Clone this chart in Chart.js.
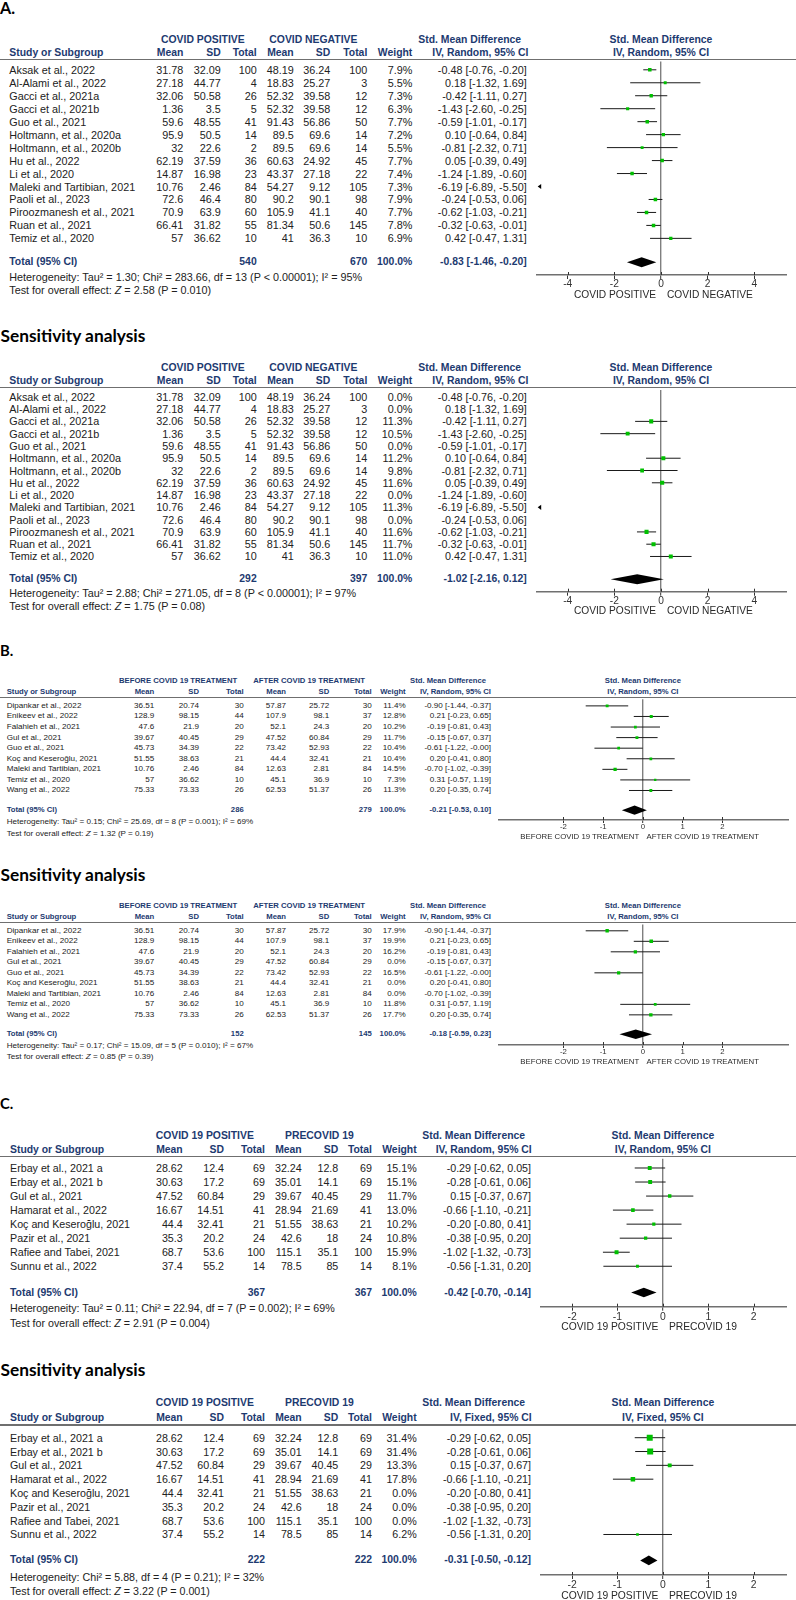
<!DOCTYPE html>
<html><head><meta charset="utf-8">
<script src="https://cdn.jsdelivr.net/npm/chart.js@4.4.1/dist/chart.umd.min.js"></script>
<style>
html,body{margin:0;padding:0;background:#fff;}
#page{position:relative;width:796px;height:1600px;overflow:hidden;font-family:"Liberation Sans",Arial,sans-serif;background:#fff;}
.t{position:absolute;white-space:nowrap;line-height:1;transform:translateY(-50%);color:#222;}
.t.r{transform:translate(-100%,-50%);}
.t.c{transform:translate(-50%,-50%);}
.t.b{font-weight:bold;color:#1d3a70;}
.rule{position:absolute;left:0;width:796px;height:1.3px;background:#6f6f6f;}
canvas{position:absolute;}
</style></head><body><div id="page"></div>
<script>
// ================= DATA =================
// Panel A (COVID positive vs negative)
const studiesA = ["Aksak et al., 2022","Al-Alami et al., 2022","Gacci et al., 2021a","Gacci et al., 2021b","Guo et al., 2021","Holtmann, et al., 2020a","Holtmann, et al., 2020b","Hu et al., 2022","Li et al., 2020","Maleki and Tartibian, 2021","Paoli et al., 2023","Piroozmanesh et al., 2021","Ruan et al., 2021","Temiz et al., 2020"];
const posMeanA = [31.78,27.18,32.06,1.36,59.6,95.9,32,62.19,14.87,10.76,72.6,70.9,66.41,57];
const posSdA   = [32.09,44.77,50.58,3.5,48.55,50.5,22.6,37.59,16.98,2.46,46.4,63.9,31.82,36.62];
const posNA    = [100,4,26,5,41,14,2,36,23,84,80,60,55,10];
const negMeanA = [48.19,18.83,52.32,52.32,91.43,89.5,89.5,60.63,43.37,54.27,90.2,105.9,81.34,41];
const negSdA   = [36.24,25.27,39.58,39.58,56.86,69.6,69.6,24.92,27.18,9.12,90.1,41.1,50.6,36.3];
const negNA    = [100,3,12,12,50,14,14,45,22,105,98,40,145,10];
const smdA     = [-0.48,0.18,-0.42,-1.43,-0.59,0.10,-0.81,0.05,-1.24,-6.19,-0.24,-0.62,-0.32,0.42];
const loA      = [-0.76,-1.32,-1.11,-2.60,-1.01,-0.64,-2.32,-0.39,-1.89,-6.89,-0.53,-1.03,-0.63,-0.47];
const hiA      = [-0.20,1.69,0.27,-0.25,-0.17,0.84,0.71,0.49,-0.60,-5.50,0.06,-0.21,-0.01,1.31];
const weightA1 = [7.9,5.5,7.3,6.3,7.7,7.2,5.5,7.7,7.4,7.3,7.9,7.7,7.8,6.9];
const weightA2 = [0.0,0.0,11.3,10.5,0.0,11.2,9.8,11.6,0.0,11.3,0.0,11.6,11.7,11.0];
const totalA1  = {n1:540, n2:670, est:-0.83, lo:-1.46, hi:-0.20};
const totalA2  = {n1:292, n2:397, est:-1.02, lo:-2.16, hi:0.12};
const hetA1 = "Heterogeneity: Tau² = 1.30; Chi² = 283.66, df = 13 (P &lt; 0.00001); I² = 95%";
const testA1 = "Test for overall effect: <i>Z</i> = 2.58 (P = 0.010)";
const hetA2 = "Heterogeneity: Tau² = 2.88; Chi² = 271.05, df = 8 (P &lt; 0.00001); I² = 97%";
const testA2 = "Test for overall effect: <i>Z</i> = 1.75 (P = 0.08)";
const ticksA = [-4,-2,0,2,4];

// Panel B (before vs after COVID-19 treatment)
const studiesB = ["Dipankar et al., 2022","Enikeev et al., 2022","Falahieh et al., 2021","Gul et al., 2021","Guo et al., 2021","Koç and Keseroğlu, 2021","Maleki and Tartibian, 2021","Temiz et al., 2020","Wang et al., 2022"];
const beforeMeanB = [36.51,128.9,47.6,39.67,45.73,51.55,10.76,57,75.33];
const beforeSdB   = [20.74,98.15,21.9,40.45,34.39,38.63,2.46,36.62,73.33];
const beforeNB    = [30,44,20,29,22,21,84,10,26];
const afterMeanB  = [57.87,107.9,52.1,47.52,73.42,44.4,12.63,45.1,62.53];
const afterSdB    = [25.72,98.1,24.3,60.84,52.93,32.41,2.81,36.9,51.37];
const afterNB     = [30,37,20,29,22,21,84,10,26];
const smdB        = [-0.90,0.21,-0.19,-0.15,-0.61,0.20,-0.70,0.31,0.20];
const loB         = [-1.44,-0.23,-0.81,-0.67,-1.22,-0.41,-1.02,-0.57,-0.35];
const hiB         = [-0.37,0.65,0.43,0.37,-0.004,0.80,-0.39,1.19,0.74];
const weightB1    = [11.4,12.8,10.2,11.7,10.4,10.4,14.5,7.3,11.3];
const weightB2    = [17.9,19.9,16.2,0.0,16.5,0.0,0.0,11.8,17.7];
const totalB1 = {n1:286, n2:279, est:-0.21, lo:-0.53, hi:0.10};
const totalB2 = {n1:152, n2:145, est:-0.18, lo:-0.59, hi:0.23};
const hetB1 = "Heterogeneity: Tau² = 0.15; Chi² = 25.69, df = 8 (P = 0.001); I² = 69%";
const testB1 = "Test for overall effect: <i>Z</i> = 1.32 (P = 0.19)";
const hetB2 = "Heterogeneity: Tau² = 0.17; Chi² = 15.09, df = 5 (P = 0.010); I² = 67%";
const testB2 = "Test for overall effect: <i>Z</i> = 0.85 (P = 0.39)";
const ticksB = [-2,-1,0,1,2];

// Panel C (COVID-19 positive vs pre-COVID-19)
const studiesC = ["Erbay et al., 2021 a","Erbay et al., 2021 b","Gul et al., 2021","Hamarat et al., 2022","Koç and Keseroğlu, 2021","Pazir et al., 2021","Rafiee and Tabei, 2021","Sunnu et al., 2022"];
const posMeanC = [28.62,30.63,47.52,16.67,44.4,35.3,68.7,37.4];
const posSdC   = [12.4,17.2,60.84,14.51,32.41,20.2,53.6,55.2];
const posNC    = [69,69,29,41,21,24,100,14];
const preMeanC = [32.24,35.01,39.67,28.94,51.55,42.6,115.1,78.5];
const preSdC   = [12.8,14.1,40.45,21.69,38.63,18,35.1,85];
const preNC    = [69,69,29,41,21,24,100,14];
const smdC     = [-0.29,-0.28,0.15,-0.66,-0.20,-0.38,-1.02,-0.56];
const loC      = [-0.62,-0.61,-0.37,-1.10,-0.80,-0.95,-1.32,-1.31];
const hiC      = [0.05,0.06,0.67,-0.21,0.41,0.20,-0.73,0.20];
const weightC1 = [15.1,15.1,11.7,13.0,10.2,10.8,15.9,8.1];
const weightC2 = [31.4,31.4,13.3,17.8,0.0,0.0,0.0,6.2];
const totalC1 = {n1:367, n2:367, est:-0.42, lo:-0.70, hi:-0.14};
const totalC2 = {n1:222, n2:222, est:-0.31, lo:-0.50, hi:-0.12};
const hetC1 = "Heterogeneity: Tau² = 0.11; Chi² = 22.94, df = 7 (P = 0.002); I² = 69%";
const testC1 = "Test for overall effect: <i>Z</i> = 2.91 (P = 0.004)";
const hetC2 = "Heterogeneity: Chi² = 5.88, df = 4 (P = 0.21); I² = 32%";
const testC2 = "Test for overall effect: <i>Z</i> = 3.22 (P = 0.001)";
const ticksC = [-2,-1,0,1,2];

// ================= STYLE / LAYOUT =================
const FONT = '"Liberation Sans", Arial, sans-serif';
const HEAD = 'Lato, "Open Sans", sans-serif';
const GREEN = '#00c000';
Chart.defaults.font.family = FONT;

const geoA = {studyX:9.3, cols:[183.3,220.7,256.7,293.7,330.3,367.3], weightR:412.3, ciR:526.7, g1L:161, g2L:269.3, smdL:418.3, ivR:528.3,
  plotL:536.7, plotR:786, xMin:-5.33, xMax:5.36, axisH:17, tickLen:4, tickPad:0.3, labGapL:5, labGapR:6,
  fs:{reg:10.8, bold:10.4, tick:10.2, lab:10.2}, diamondH:5};
const geoB = {studyX:6.7, cols:[154.3,199,243.7,286,329.3,371.7], weightR:405.7, ciR:491, g1L:119, g2L:253.3, smdL:410, ivR:491,
  plotL:498.3, plotR:788.3, xMin:-3.64, xMax:3.66, axisH:13, tickLen:3, tickPad:0.4, labGapL:3.7, labGapR:3.7,
  fs:{reg:8.1, bold:7.7, tick:7.8, lab:7.8}, diamondH:4.7};
const geoC = {studyX:10, cols:[182.7,224,265,301.7,338.3,372], weightR:416.7, ciR:531, g1L:155.7, g2L:285, smdL:422.3, ivR:531.7,
  plotL:540.7, plotR:786, xMin:-2.69, xMax:2.71, axisH:17, tickLen:4, tickPad:0.8, labGapL:4.4, labGapR:6,
  fs:{reg:10.7, bold:10.4, tick:10.4, lab:10.3}, diamondH:4.8};

const panels = [
  {tag:'A.', tagY:8, tagW:15, grpY:40, colY:52.7, ruleY:59.3, row0:67.7, dy:13.1, totalY:262, hetY:276.5, testY:289.5, axisY:275, labY:295,
   geo:geoA, sq:1.25, studies:studiesA, g1:'COVID POSITIVE', g2:'COVID NEGATIVE', m1:posMeanA, s1:posSdA, n1:posNA, m2:negMeanA, s2:negSdA, n2:negNA,
   est:smdA, lo:loA, hi:hiA, w:weightA1, tot:totalA1, het:hetA1, test:testA1, method:'IV, Random, 95% CI', ticks:ticksA},
  {head:'Sensitivity analysis', headY:336, grpY:368.3, colY:381, ruleY:387.3, row0:394.3, dy:12.44, totalY:579, hetY:592.7, testY:606, axisY:591.7, labY:610.5,
   geo:geoA, sq:1.2, studies:studiesA, g1:'COVID POSITIVE', g2:'COVID NEGATIVE', m1:posMeanA, s1:posSdA, n1:posNA, m2:negMeanA, s2:negSdA, n2:negNA,
   est:smdA, lo:loA, hi:hiA, w:weightA2, tot:totalA2, het:hetA2, test:testA2, method:'IV, Random, 95% CI', ticks:ticksA},
  {tag:'B.', tagY:650, tagW:13.3, grpY:680.7, colY:692, ruleY:697.3, row0:704, dy:10.75, totalY:810, hetY:822, testY:833.5, axisY:820, labY:836.5,
   geo:geoB, sq:0.85, studies:studiesB, g1:'BEFORE COVID 19 TREATMENT', g2:'AFTER COVID 19 TREATMENT', m1:beforeMeanB, s1:beforeSdB, n1:beforeNB, m2:afterMeanB, s2:afterSdB, n2:afterNB,
   est:smdB, lo:loB, hi:hiB, w:weightB1, tot:totalB1, het:hetB1, test:testB1, method:'IV, Random, 95% CI', ticks:ticksB},
  {head:'Sensitivity analysis', headY:875, grpY:906, colY:917, ruleY:922.3, row0:928.7, dy:10.7, totalY:1034, hetY:1046.3, testY:1057.3, axisY:1045, labY:1061.5,
   geo:geoB, sq:0.8, studies:studiesB, g1:'BEFORE COVID 19 TREATMENT', g2:'AFTER COVID 19 TREATMENT', m1:beforeMeanB, s1:beforeSdB, n1:beforeNB, m2:afterMeanB, s2:afterSdB, n2:afterNB,
   est:smdB, lo:loB, hi:hiB, w:weightB2, tot:totalB2, het:hetB2, test:testB2, method:'IV, Random, 95% CI', ticks:ticksB},
  {tag:'C.', tagY:1103, tagW:13.3, grpY:1136, colY:1150, ruleY:1156.7, row0:1166, dy:14.24, totalY:1292.3, hetY:1308.3, testY:1323.3, axisY:1306.7, labY:1327,
   geo:geoC, sq:1.0, studies:studiesC, g1:'COVID 19 POSITIVE', g2:'PRECOVID 19', m1:posMeanC, s1:posSdC, n1:posNC, m2:preMeanC, s2:preSdC, n2:preNC,
   est:smdC, lo:loC, hi:hiC, w:weightC1, tot:totalC1, het:hetC1, test:testC1, method:'IV, Random, 95% CI', ticks:ticksC},
  {head:'Sensitivity analysis', headY:1370, grpY:1403.3, colY:1417.7, ruleY:1425, row0:1433.7, dy:14.23, totalY:1560, hetY:1576.7, testY:1590.7, axisY:1575, labY:1596,
   geo:geoC, sq:1.07, studies:studiesC, g1:'COVID 19 POSITIVE', g2:'PRECOVID 19', m1:posMeanC, s1:posSdC, n1:posNC, m2:preMeanC, s2:preSdC, n2:preNC,
   est:smdC, lo:loC, hi:hiC, w:weightC2, tot:totalC2, het:hetC2, test:testC2, method:'IV, Fixed, 95% CI', ticks:ticksC}
];
const axisLabels = {A:['COVID POSITIVE','COVID NEGATIVE'], B:['BEFORE COVID 19 TREATMENT','AFTER COVID 19 TREATMENT'], C:['COVID 19 POSITIVE','PRECOVID 19']};
panels[0].axL = axisLabels.A; panels[1].axL = axisLabels.A;
panels[2].axL = axisLabels.B; panels[3].axL = axisLabels.B;
panels[4].axL = axisLabels.C; panels[5].axL = axisLabels.C;

// ================= RENDER =================
const page = document.getElementById('page');
function T(x, y, s, o) {
  o = o || {};
  const d = document.createElement('div');
  d.className = 't' + (o.align === 'r' ? ' r' : o.align === 'c' ? ' c' : '') + (o.bold ? ' b' : '');
  d.style.left = x + 'px'; d.style.top = y + 'px'; d.style.fontSize = o.fs + 'px';
  if (o.color) d.style.color = o.color;
  if (o.family) d.style.fontFamily = o.family;
  if (o.weight) d.style.fontWeight = o.weight;
  if (o.html) d.innerHTML = s; else d.textContent = s;
  page.appendChild(d);
  return d;
}
function fit(el, w) {
  const cur = el.getBoundingClientRect().width;
  const fs = parseFloat(el.style.fontSize);
  if (cur > 0) el.style.fontSize = (fs * w / cur) + 'px';
}
const fmt2 = v => v.toFixed(2);
const ciText = (e, l, h) => fmt2(e) + ' [' + fmt2(l) + ', ' + fmt2(h) + ']';

function forestPlugin(p, tIdx) {
  return {
    id: 'forest',
    afterDatasetsDraw(chart) {
      const {ctx, chartArea: a, scales: {x, y}} = chart;
      ctx.save();
      p.est.forEach((v, i) => {
        if (p.w[i] > 0 && p.hi[i] < x.min) {
          const py = y.getPixelForValue(i);
          ctx.beginPath();
          ctx.moveTo(a.left + 1, py);
          ctx.lineTo(a.left + 4.5, py - 2.6);
          ctx.lineTo(a.left + 4.5, py + 2.6);
          ctx.closePath();
          ctx.fillStyle = '#000';
          ctx.fill();
        }
      });
      const ty = y.getPixelForValue(tIdx), h = p.geo.diamondH;
      ctx.beginPath();
      ctx.moveTo(x.getPixelForValue(p.tot.lo), ty);
      ctx.lineTo(x.getPixelForValue(p.tot.est), ty - h);
      ctx.lineTo(x.getPixelForValue(p.tot.hi), ty);
      ctx.lineTo(x.getPixelForValue(p.tot.est), ty + h);
      ctx.closePath();
      ctx.fillStyle = '#000';
      ctx.fill();
      ctx.restore();
    },
    afterDraw(chart) {
      const {ctx, chartArea: a, scales: {x}} = chart;
      ctx.save();
      ctx.strokeStyle = '#333'; ctx.lineWidth = 1;
      x.ticks.forEach(t => {
        const px = Math.round(x.getPixelForValue(t.value)) + 0.5;
        ctx.beginPath(); ctx.moveTo(px, a.bottom - 3); ctx.lineTo(px, a.bottom); ctx.stroke();
      });
      ctx.restore();
    }
  };
}

function renderPanel(p) {
  const G = p.geo, F = G.fs;
  if (p.tag) { const h = T(0, p.tagY, p.tag, {fs:16, family:HEAD, weight:'bold', color:'#000'}); fit(h, p.tagW); }
  if (p.head) { const h = T(0.5, p.headY, p.head, {fs:17, family:HEAD, weight:'bold', color:'#000'}); fit(h, 145); }

  const rule = document.createElement('div');
  rule.className = 'rule'; rule.style.top = (p.ruleY - 0.65) + 'px';
  page.appendChild(rule);

  const cL = Math.floor(G.plotL) - 6, cR = Math.min(796, Math.ceil(G.plotR) + 6);
  const cT = Math.floor(p.ruleY), cH = Math.ceil(p.axisY - cT + G.axisH);
  const cv = document.createElement('canvas');
  cv.width = cR - cL; cv.height = cH;
  cv.style.left = cL + 'px'; cv.style.top = cT + 'px';
  cv.style.width = (cR - cL) + 'px'; cv.style.height = cH + 'px';
  page.appendChild(cv);
  const xH = cH - (p.axisY - cT);
  const yMin = (p.ruleY - p.row0) / p.dy, yMax = (p.axisY - p.row0) / p.dy;
  const tIdx = (p.totalY - p.row0) / p.dy;

  const datasets = [{
    data: p.est.map((v, i) => ({x: v, y: i})),
    pointStyle: 'rect', backgroundColor: GREEN, borderColor: GREEN, borderWidth: 0,
    pointRadius: c => { const w = p.w[c.dataIndex]; return w > 0 ? p.sq * Math.sqrt(w) / Math.SQRT2 : 0; },
    pointHoverRadius: 0, order: 0
  }];
  p.lo.forEach((lo, i) => {
    if (p.w[i] > 0) datasets.push({data: [{x: lo, y: i}, {x: p.hi[i], y: i}], showLine: true,
      borderColor: '#1a1a1a', borderWidth: 1, pointRadius: 0, pointHoverRadius: 0, order: 1});
  });

  const chart = new Chart(cv, {
    type: 'scatter',
    data: {datasets},
    options: {
      responsive: false, animation: false, devicePixelRatio: 1, events: [],
      layout: {padding: {left: G.plotL - cL, right: cR - G.plotR, top: p.ruleY - cT, bottom: 0}},
      plugins: {legend: {display: false}, tooltip: {enabled: false}},
      scales: {
        x: {
          type: 'linear', position: 'bottom', min: G.xMin, max: G.xMax,
          afterBuildTicks: s => { s.ticks = p.ticks.map(v => ({value: v})); },
          afterFit: s => { s.height = xH; },
          grid: {
            drawOnChartArea: true, drawTicks: true, tickLength: G.tickLen,
            color: c => (c.tick && c.tick.value === 0) ? '#7f7f7f' : 'rgba(0,0,0,0)',
            lineWidth: c => (c.tick && c.tick.value === 0) ? 1.4 : 1,
            tickColor: '#333', tickWidth: 1
          },
          border: {display: true, color: '#707070', width: 1.4},
          ticks: {font: {family: FONT, size: F.tick, lineHeight: 1}, color: '#333', padding: G.tickPad, maxRotation: 0, autoSkip: false,
                  callback: v => String(v)}
        },
        y: {type: 'linear', display: false, reverse: true, min: yMin, max: yMax}
      }
    },
    plugins: [forestPlugin(p, tIdx)]
  });

  const X = chart.scales.x, Y = chart.scales.y;
  const rowY = i => cT + Y.getPixelForValue(i);
  const zero = cL + X.getPixelForValue(0);
  const B = {fs: F.bold, bold: true};
  const BR = {fs: F.bold, bold: true, align: 'r'};
  const R = {fs: F.reg, align: 'r'};

  T(G.g1L, p.grpY, p.g1, B);
  T(G.g2L, p.grpY, p.g2, B);
  T(G.smdL, p.grpY, 'Std. Mean Difference', B);
  T(zero, p.grpY, 'Std. Mean Difference', {fs: F.bold, bold: true, align: 'c'});
  T(G.studyX, p.colY, 'Study or Subgroup', B);
  ['Mean','SD','Total','Mean','SD','Total'].forEach((h, k) => T(G.cols[k], p.colY, h, BR));
  T(G.weightR, p.colY, 'Weight', BR);
  T(G.ivR, p.colY, p.method, BR);
  T(zero, p.colY, p.method, {fs: F.bold, bold: true, align: 'c'});

  p.studies.forEach((s, i) => {
    const y = rowY(i);
    T(G.studyX, y, s, {fs: F.reg});
    [p.m1[i], p.s1[i], p.n1[i], p.m2[i], p.s2[i], p.n2[i]].forEach((v, k) => T(G.cols[k], y, String(v), R));
    T(G.weightR, y, p.w[i].toFixed(1) + '%', R);
    T(G.ciR, y, ciText(p.est[i], p.lo[i], p.hi[i]), R);
  });

  const ty = rowY(tIdx);
  T(G.studyX, ty, 'Total (95% CI)', B);
  T(G.cols[2], ty, String(p.tot.n1), BR);
  T(G.cols[5], ty, String(p.tot.n2), BR);
  T(G.weightR, ty, '100.0%', BR);
  T(G.ciR, ty, ciText(p.tot.est, p.tot.lo, p.tot.hi), BR);
  T(G.studyX, p.hetY, p.het, {fs: F.reg, html: true});
  T(G.studyX, p.testY, p.test, {fs: F.reg, html: true});

  T(zero - G.labGapL, p.labY, p.axL[0], {fs: F.lab, align: 'r', color: '#2a2a2a'});
  T(zero + G.labGapR, p.labY, p.axL[1], {fs: F.lab, color: '#2a2a2a'});
}

panels.forEach(renderPanel);
</script>
</body></html>
